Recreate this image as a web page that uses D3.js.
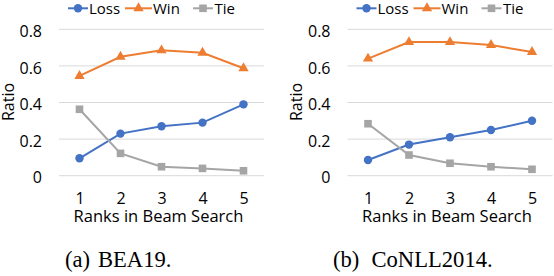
<!DOCTYPE html>
<html><head><meta charset="utf-8">
<script src="https://cdn.jsdelivr.net/npm/d3@7"></script>
<style>body{margin:0;background:#fff}svg{display:block}</style>
</head><body>
<svg id="c" width="554" height="276"></svg>
<script>
const ranks = [1, 2, 3, 4, 5];
const yTicks = [0, 0.2, 0.4, 0.6, 0.8];
const seriesNames = ["Loss", "Win", "Tie"];
const bea19Loss = [0.095, 0.23, 0.27, 0.29, 0.39];
const bea19Win = [0.545, 0.65, 0.685, 0.672, 0.587];
const bea19Tie = [0.363, 0.122, 0.049, 0.04, 0.027];
const conllLoss = [0.086, 0.17, 0.21, 0.25, 0.30];
const conllWin = [0.64, 0.73, 0.73, 0.714, 0.676];
const conllTie = [0.284, 0.113, 0.068, 0.049, 0.035];
const captionTags = ["(a)", "(b)"];
const captionNames = ["BEA19.", "CoNLL2014."];
const xLabel = "Ranks in Beam Search";
const yLabel = "Ratio";

const colors = {Loss: "#4472C4", Win: "#ED7D31", Tie: "#A5A5A5"};
const sans = "'Open Sans', 'Liberation Sans', sans-serif";
const serif = "'Liberation Serif', 'Times New Roman', serif";
const svg = d3.select("#c");

const panels = [
  {ox: 0, data: {Loss: bea19Loss, Win: bea19Win, Tie: bea19Tie}, tag: captionTags[0], name: captionNames[0], tagX: 65, nameX: 98},
  {ox: 288.5, data: {Loss: conllLoss, Win: conllWin, Tie: conllTie}, tag: captionTags[1], name: captionNames[1], tagX: 333, nameX: 371.5}
];

function marker(g, name, cx, cy) {
  const c = colors[name];
  if (name === "Loss") g.append("circle").attr("cx", cx).attr("cy", cy).attr("r", 4.2).attr("fill", c);
  else if (name === "Win") g.append("path").attr("d", d3.symbol(d3.symbolTriangle, 46)()).attr("transform", `translate(${cx},${cy})`).attr("fill", c);
  else g.append("rect").attr("x", cx - 3.8).attr("y", cy - 3.8).attr("width", 7.6).attr("height", 7.6).attr("fill", c);
}

panels.forEach(p => {
  const g = svg.append("g").attr("transform", `translate(${p.ox},0)`);
  const x = d3.scalePoint().domain(ranks).range([59, 264]).padding(0.5);
  const y = d3.scaleLinear().domain([0, 0.8]).range([175.7, 29.3]);

  g.append("g").selectAll("line").data(yTicks).join("line")
    .attr("x1", 59).attr("x2", 264).attr("y1", d => y(d)).attr("y2", d => y(d))
    .attr("stroke", "#D9D9D9").attr("stroke-width", 1);

  const ya = g.append("g").attr("transform", "translate(42,0)")
    .call(d3.axisLeft(y).tickValues(yTicks).tickSize(0).tickPadding(0).tickFormat(d => d === 0 ? "0" : d3.format(".1f")(d)));
  ya.select(".domain").remove();
  ya.selectAll("text").attr("font-family", sans).attr("font-size", 16).attr("fill", "#000").attr("dy", "0.45em");

  const xa = g.append("g").attr("transform", "translate(0,0)")
    .call(d3.axisBottom(x).tickSize(0).tickPadding(0));
  xa.select(".domain").remove();
  xa.selectAll("text").attr("font-family", sans).attr("font-size", 16).attr("fill", "#000")
    .attr("y", 203.5).attr("dy", null);

  g.append("text").attr("x", 158.5).attr("y", 222).attr("text-anchor", "middle")
    .attr("font-family", sans).attr("font-size", 16.5).text(xLabel);
  g.append("text").attr("transform", "translate(13.5,102) rotate(-90)").attr("text-anchor", "middle")
    .attr("font-family", sans).attr("font-size", 16).text(yLabel);

  seriesNames.forEach(name => {
    const vals = p.data[name];
    g.append("path").datum(vals)
      .attr("d", d3.line().x((d, i) => x(ranks[i])).y(d => y(d)))
      .attr("fill", "none").attr("stroke", colors[name]).attr("stroke-width", 2);
    vals.forEach((v, i) => marker(g, name, x(ranks[i]), y(v)));
  });

  const leg = [
    {name: "Loss", x1: 68, x2: 88, tx: 89},
    {name: "Win", x1: 125, x2: 152, tx: 153},
    {name: "Tie", x1: 193, x2: 213, tx: 214.5}
  ];
  leg.forEach(l => {
    g.append("line").attr("x1", l.x1).attr("x2", l.x2).attr("y1", 8.3).attr("y2", 8.3)
      .attr("stroke", colors[l.name]).attr("stroke-width", 2);
    marker(g, l.name, (l.x1 + l.x2) / 2, 8.3);
    g.append("text").attr("x", l.tx).attr("y", 13.5).attr("font-family", sans).attr("font-size", 15).text(l.name);
  });
});

panels.forEach(p => {
  svg.append("text").attr("x", p.tagX).attr("y", 266.5).attr("font-family", serif).attr("font-size", 22.6).text(p.tag);
  svg.append("text").attr("x", p.nameX).attr("y", 266.5).attr("font-family", serif).attr("font-size", 22.6).text(p.name);
});
</script>
</body></html>
